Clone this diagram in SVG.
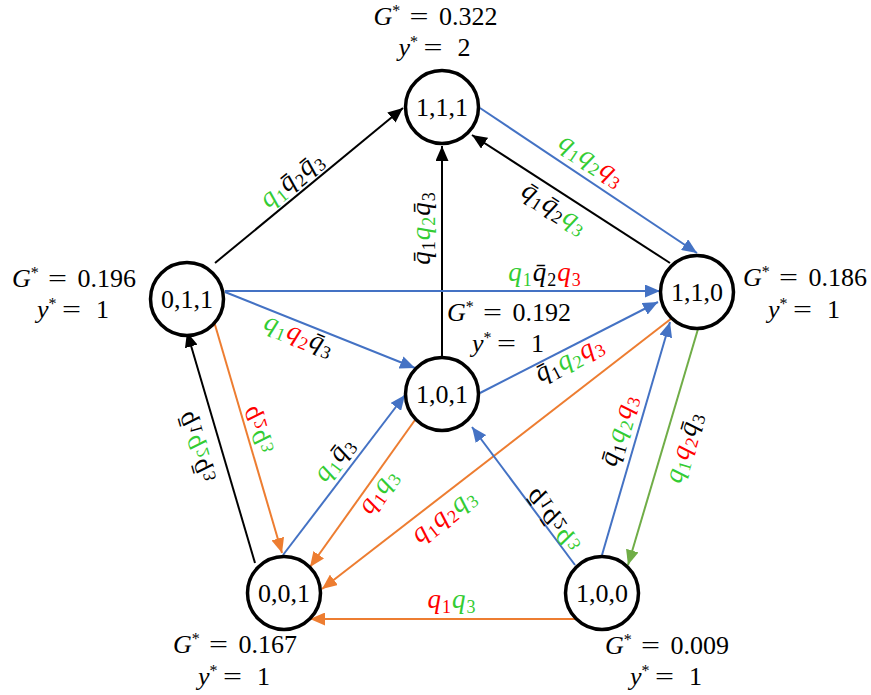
<svg xmlns="http://www.w3.org/2000/svg" width="871" height="695" viewBox="0 0 871 695">
<style>
.bg{fill:#fff}
.node circle{fill:#fff;stroke:#000;stroke-width:3.5}
.nl{font-family:"Liberation Serif",serif;font-size:26px;text-anchor:middle;fill:#000}
.m{font-family:"Liberation Serif",serif;font-size:26px;fill:#000}
.i{font-style:italic}
.sup{font-size:16px;font-style:normal}
.e{fill:none;stroke-width:2}
.k{stroke:#000}
.b{stroke:#4472c4}
.o{stroke:#ed7d31}
.gr{stroke:#70ad47}
.q{font-family:"Liberation Serif",serif;font-style:italic;font-size:27px;text-anchor:middle;fill:#000;letter-spacing:1px}
.s{font-size:18px;font-style:normal}
.g{fill:#33cc33}
.r{fill:#ff0000}
</style>
<defs>
<marker id="ak" markerUnits="userSpaceOnUse" markerWidth="15" markerHeight="13" refX="15" refY="6.5" orient="auto"><path d="M0,0 L15,6.5 L0,13 z" fill="#000"/></marker>
<marker id="ab" markerUnits="userSpaceOnUse" markerWidth="15" markerHeight="13" refX="15" refY="6.5" orient="auto"><path d="M0,0 L15,6.5 L0,13 z" fill="#4472c4"/></marker>
<marker id="ao" markerUnits="userSpaceOnUse" markerWidth="15" markerHeight="13" refX="15" refY="6.5" orient="auto"><path d="M0,0 L15,6.5 L0,13 z" fill="#ed7d31"/></marker>
<marker id="ag" markerUnits="userSpaceOnUse" markerWidth="15" markerHeight="13" refX="15" refY="6.5" orient="auto"><path d="M0,0 L15,6.5 L0,13 z" fill="#70ad47"/></marker>
</defs>
<rect class="bg" x="0" y="0" width="871" height="695"/>

<g id="connectors">
<line class="e k" x1="215" y1="263" x2="403" y2="108" marker-end="url(#ak)"/>
<line class="e k" x1="442" y1="356" x2="442" y2="146" marker-end="url(#ak)"/>
<line class="e b" x1="480" y1="108" x2="697" y2="253" marker-end="url(#ab)"/>
<line class="e k" x1="670" y1="263" x2="472" y2="135" marker-end="url(#ak)"/>
<line class="e b" x1="225" y1="291" x2="660" y2="291" marker-end="url(#ab)"/>
<line class="e b" x1="225" y1="292" x2="415" y2="368" marker-end="url(#ab)"/>
<line class="e b" x1="480" y1="393" x2="658" y2="302" marker-end="url(#ab)"/>
<line class="e o" x1="672" y1="318" x2="322" y2="589" marker-end="url(#ao)"/>
<line class="e b" x1="602" y1="555" x2="670" y2="322" marker-end="url(#ab)"/>
<line class="e gr" x1="698" y1="329" x2="628" y2="565" marker-end="url(#ag)"/>
<line class="e b" x1="575" y1="565" x2="472" y2="427" marker-end="url(#ab)"/>
<line class="e k" x1="255" y1="563" x2="187" y2="332" marker-end="url(#ak)"/>
<line class="e o" x1="213" y1="318" x2="282" y2="553" marker-end="url(#ao)"/>
<line class="e b" x1="283" y1="555" x2="405" y2="395" marker-end="url(#ab)"/>
<line class="e o" x1="415" y1="420" x2="310" y2="567" marker-end="url(#ao)"/>
<line class="e o" x1="575" y1="619" x2="310" y2="619" marker-end="url(#ao)"/>
</g>

<g id="edge-labels">
<g transform="translate(294,182) rotate(-39.4)"><text class="q" y="4"><tspan class="g">q</tspan><tspan class="g s" dy="5">1</tspan><tspan dy="-5">q̄</tspan><tspan class="s" dy="5">2</tspan><tspan dy="-5">q̄</tspan><tspan class="s" dy="5">3</tspan></text></g>
<g transform="translate(426,228) rotate(-90)"><text class="q" y="4"><tspan>q̄</tspan><tspan class="s" dy="5">1</tspan><tspan class="g" dy="-5">q</tspan><tspan class="g s" dy="5">2</tspan><tspan dy="-5">q̄</tspan><tspan class="s" dy="5">3</tspan></text></g>
<g transform="translate(590,163) rotate(33.7)"><text class="q" y="4"><tspan class="g">q</tspan><tspan class="g s" dy="5">1</tspan><tspan class="g" dy="-5">q</tspan><tspan class="g s" dy="5">2</tspan><tspan class="r" dy="-5">q</tspan><tspan class="r s" dy="5">3</tspan></text></g>
<g transform="translate(553,211) rotate(32.9)"><text class="q" y="4"><tspan>q̄</tspan><tspan class="s" dy="5">1</tspan><tspan dy="-5">q̄</tspan><tspan class="s" dy="5">2</tspan><tspan class="g" dy="-5">q</tspan><tspan class="g s" dy="5">3</tspan></text></g>
<g transform="translate(545,277)"><text class="q" y="4"><tspan class="g">q</tspan><tspan class="g s" dy="5">1</tspan><tspan dy="-5">q̄</tspan><tspan class="s" dy="5">2</tspan><tspan class="r" dy="-5">q</tspan><tspan class="r s" dy="5">3</tspan></text></g>
<g transform="translate(298,338) rotate(22)"><text class="q" y="4"><tspan class="g">q</tspan><tspan class="g s" dy="5">1</tspan><tspan class="r" dy="-5">q</tspan><tspan class="r s" dy="5">2</tspan><tspan dy="-5">q̄</tspan><tspan class="s" dy="5">3</tspan></text></g>
<g transform="translate(571,362) rotate(-27.2)"><text class="q" y="4"><tspan>q̄</tspan><tspan class="s" dy="5">1</tspan><tspan class="g" dy="-5">q</tspan><tspan class="g s" dy="5">2</tspan><tspan class="r" dy="-5">q</tspan><tspan class="r s" dy="5">3</tspan></text></g>
<g transform="translate(446,518) rotate(-37.6)"><text class="q" y="4"><tspan class="r">q</tspan><tspan class="r s" dy="5">1</tspan><tspan class="r" dy="-5">q</tspan><tspan class="r s" dy="5">2</tspan><tspan class="g" dy="-5">q</tspan><tspan class="g s" dy="5">3</tspan></text></g>
<g transform="translate(622,431) rotate(-73.7)"><text class="q" y="4"><tspan>q̄</tspan><tspan class="s" dy="5">1</tspan><tspan class="g" dy="-5">q</tspan><tspan class="g s" dy="5">2</tspan><tspan class="r" dy="-5">q</tspan><tspan class="r s" dy="5">3</tspan></text></g>
<g transform="translate(687,448) rotate(-73.5)"><text class="q" y="4"><tspan class="g">q</tspan><tspan class="g s" dy="5">1</tspan><tspan class="r" dy="-5">q</tspan><tspan class="r s" dy="5">2</tspan><tspan dy="-5">q̄</tspan><tspan class="s" dy="5">3</tspan></text></g>
<g transform="translate(554,520) rotate(56) scale(1,-1)"><text class="q" y="4"><tspan>q̄</tspan><tspan class="s" dy="5">1</tspan><tspan dy="-5">q̄</tspan><tspan class="s" dy="5">2</tspan><tspan class="g" dy="-5">q</tspan><tspan class="g s" dy="5">3</tspan></text></g>
<g transform="translate(198,447) rotate(74) scale(1,-1)"><text class="q" y="4"><tspan>q̄</tspan><tspan class="s" dy="5">1</tspan><tspan class="g" dy="-5">q</tspan><tspan class="g s" dy="5">2</tspan><tspan dy="-5">q̄</tspan><tspan class="s" dy="5">3</tspan></text></g>
<g transform="translate(259,430) rotate(74) scale(1,-1)"><text class="q" y="4"><tspan class="r">q</tspan><tspan class="r s" dy="5">2</tspan><tspan class="g" dy="-5">q</tspan><tspan class="g s" dy="5">3</tspan></text></g>
<g transform="translate(337,461) rotate(-52.7)"><text class="q" y="4"><tspan class="g">q</tspan><tspan class="g s" dy="5">1</tspan><tspan dy="-5">q̄</tspan><tspan class="s" dy="5">3</tspan></text></g>
<g transform="translate(381,493) rotate(-54.4)"><text class="q" y="4"><tspan class="r">q</tspan><tspan class="r s" dy="5">1</tspan><tspan class="g" dy="-5">q</tspan><tspan class="g s" dy="5">3</tspan></text></g>
<g transform="translate(452,604)"><text class="q" y="4"><tspan class="r">q</tspan><tspan class="r s" dy="5">1</tspan><tspan class="g" dy="-5">q</tspan><tspan class="g s" dy="5">3</tspan></text></g>
</g>

<g id="node-111" class="node">
<circle cx="442" cy="107" r="36.5"/><text class="nl" x="442" y="116">1,1,1</text>
<g transform="translate(435.5,25)"><text class="m i" x="-62">G<tspan class="sup" dy="-9">*</tspan></text><text class="m" x="-26" textLength="19" lengthAdjust="spacingAndGlyphs">=</text><text class="m" x="62" text-anchor="end">0.322</text></g>
<g transform="translate(435.5,56)"><text class="m i" x="-37">y<tspan class="sup" dy="-9">*</tspan></text><text class="m" x="-12" textLength="19" lengthAdjust="spacingAndGlyphs">=</text><text class="m" x="35" text-anchor="end">2</text></g>
</g>
<g id="node-011" class="node">
<circle cx="187" cy="299" r="36.5"/><text class="nl" x="187" y="308">0,1,1</text>
<g transform="translate(74,287)"><text class="m i" x="-62">G<tspan class="sup" dy="-9">*</tspan></text><text class="m" x="-26" textLength="19" lengthAdjust="spacingAndGlyphs">=</text><text class="m" x="62" text-anchor="end">0.196</text></g>
<g transform="translate(74,318)"><text class="m i" x="-37">y<tspan class="sup" dy="-9">*</tspan></text><text class="m" x="-12" textLength="19" lengthAdjust="spacingAndGlyphs">=</text><text class="m" x="35" text-anchor="end">1</text></g>
</g>
<g id="node-110" class="node">
<circle cx="697" cy="292" r="36.5"/><text class="nl" x="697" y="301">1,1,0</text>
<g transform="translate(805,286)"><text class="m i" x="-62">G<tspan class="sup" dy="-9">*</tspan></text><text class="m" x="-26" textLength="19" lengthAdjust="spacingAndGlyphs">=</text><text class="m" x="62" text-anchor="end">0.186</text></g>
<g transform="translate(805,318)"><text class="m i" x="-37">y<tspan class="sup" dy="-9">*</tspan></text><text class="m" x="-12" textLength="19" lengthAdjust="spacingAndGlyphs">=</text><text class="m" x="35" text-anchor="end">1</text></g>
</g>
<g id="node-101" class="node">
<circle cx="442" cy="394" r="36.5"/><text class="nl" x="442" y="403">1,0,1</text>
<g transform="translate(509,321)"><text class="m i" x="-62">G<tspan class="sup" dy="-9">*</tspan></text><text class="m" x="-26" textLength="19" lengthAdjust="spacingAndGlyphs">=</text><text class="m" x="62" text-anchor="end">0.192</text></g>
<g transform="translate(509,352)"><text class="m i" x="-37">y<tspan class="sup" dy="-9">*</tspan></text><text class="m" x="-12" textLength="19" lengthAdjust="spacingAndGlyphs">=</text><text class="m" x="35" text-anchor="end">1</text></g>
</g>
<g id="node-001" class="node">
<circle cx="284" cy="593" r="36.5"/><text class="nl" x="284" y="602">0,0,1</text>
<g transform="translate(235,653)"><text class="m i" x="-62">G<tspan class="sup" dy="-9">*</tspan></text><text class="m" x="-26" textLength="19" lengthAdjust="spacingAndGlyphs">=</text><text class="m" x="62" text-anchor="end">0.167</text></g>
<g transform="translate(235,685)"><text class="m i" x="-37">y<tspan class="sup" dy="-9">*</tspan></text><text class="m" x="-12" textLength="19" lengthAdjust="spacingAndGlyphs">=</text><text class="m" x="35" text-anchor="end">1</text></g>
</g>
<g id="node-100" class="node">
<circle cx="602" cy="593" r="36.5"/><text class="nl" x="602" y="602">1,0,0</text>
<g transform="translate(667,654)"><text class="m i" x="-62">G<tspan class="sup" dy="-9">*</tspan></text><text class="m" x="-26" textLength="19" lengthAdjust="spacingAndGlyphs">=</text><text class="m" x="62" text-anchor="end">0.009</text></g>
<g transform="translate(667,685)"><text class="m i" x="-37">y<tspan class="sup" dy="-9">*</tspan></text><text class="m" x="-12" textLength="19" lengthAdjust="spacingAndGlyphs">=</text><text class="m" x="35" text-anchor="end">1</text></g>
</g>
</svg>
